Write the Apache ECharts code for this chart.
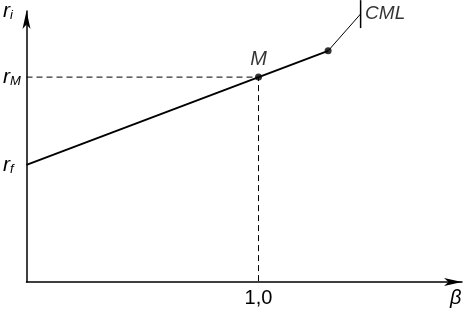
<!DOCTYPE html>
<html>
<head>
<meta charset="utf-8">
<script src="https://cdn.jsdelivr.net/npm/echarts@6/dist/echarts.min.js"></script>
<style>html,body{margin:0;padding:0;background:#fff;}#c{width:473px;height:312px;}</style>
</head>
<body>
<div id="c"></div>
<script>
// Data (beta, return)
var rf = 0.432;            // risk-free rate
var rM = 0.756;            // market return
var betaM = 1.0;           // market beta
var cmlEnd = [1.30, 0.853];   // end of the CML segment
var leaderEnd = [1.44, 0.989]; // leader line to CML label
var labelBar = [[1.44, 1.04], [1.44, 0.937]];
var xMax = 1.877, yMax = 1.0;
var yTickValues = [rf, rM, yMax];
var yTickLabels = ['{r|r}{s|f}', '{r|r}{s|M}', '{r|r}{s|i}'];
var xTickValues = [betaM, 1.85];
var xTickLabels = ['{n|1,0}', '{b|β}'];

var font = '"Liberation Sans", Arial, sans-serif';
var chart = echarts.init(document.getElementById('c'));
chart.setOption({
  animation: false,
  grid: {left: 25.5, right: 11, top: 11, bottom: 30},
  xAxis: {
    type: 'value', min: 0, max: xMax,
    splitLine: {show: false}, axisTick: {show: false},
    axisLine: {onZero: false, symbol: ['none', 'arrow'], symbolSize: [6, 18], lineStyle: {color: '#000', width: 1.5}},
    axisLabel: {
      customValues: xTickValues, margin: 6,
      formatter: function (v) { return xTickLabels[xTickValues.indexOf(v)]; },
      rich: {
        n: {fontFamily: font, fontSize: 20, color: '#000'},
        b: {fontFamily: font, fontSize: 20, fontStyle: 'italic', color: '#000'}
      }
    }
  },
  yAxis: {
    type: 'value', min: 0, max: yMax,
    splitLine: {show: false}, axisTick: {show: false},
    axisLine: {onZero: false, symbol: ['none', 'arrow'], symbolSize: [6, 18], lineStyle: {color: '#000', width: 1.5}},
    axisLabel: {
      customValues: yTickValues, margin: 23.5, align: 'left',
      formatter: function (v) { return yTickLabels[yTickValues.indexOf(v)]; },
      rich: {
        r: {fontFamily: font, fontSize: 21, fontStyle: 'italic', color: '#000'},
        s: {fontFamily: font, fontSize: 13, fontStyle: 'italic', color: '#000', verticalAlign: 'bottom', padding: [8, 0, 0, 0]}
      }
    }
  },
  series: [
    {type: 'line', data: [[0, rM], [betaM, rM], [betaM, 0]], symbol: 'none', silent: true,
     lineStyle: {color: '#000', width: 1, type: [6, 4]}},
    {type: 'line', data: [[0, rf], cmlEnd], symbol: 'none', lineStyle: {color: '#000', width: 2}},
    {type: 'line', data: [cmlEnd, leaderEnd], symbol: 'none', clip: false, lineStyle: {color: '#000', width: 1}},
    {type: 'line', data: labelBar, symbol: 'none', clip: false, lineStyle: {color: '#000', width: 1.5}},
    {type: 'scatter', data: [
        {value: [betaM, rM], label: {show: true, position: 'top', distance: 4, formatter: 'M',
          fontFamily: font, fontSize: 20, fontStyle: 'italic', color: '#000'}},
        {value: cmlEnd}
      ], symbolSize: 7, itemStyle: {color: '#000'}},
    {type: 'scatter', data: [{value: [labelBar[0][0], (labelBar[0][1] + labelBar[1][1]) / 2],
        label: {show: true, position: 'right', distance: 4, formatter: 'CML',
          fontFamily: font, fontSize: 19, fontStyle: 'italic', color: '#000'}}],
     symbolSize: 1, clip: false, itemStyle: {color: 'rgba(0,0,0,0)'}}
  ]
});
</script>
</body>
</html>
